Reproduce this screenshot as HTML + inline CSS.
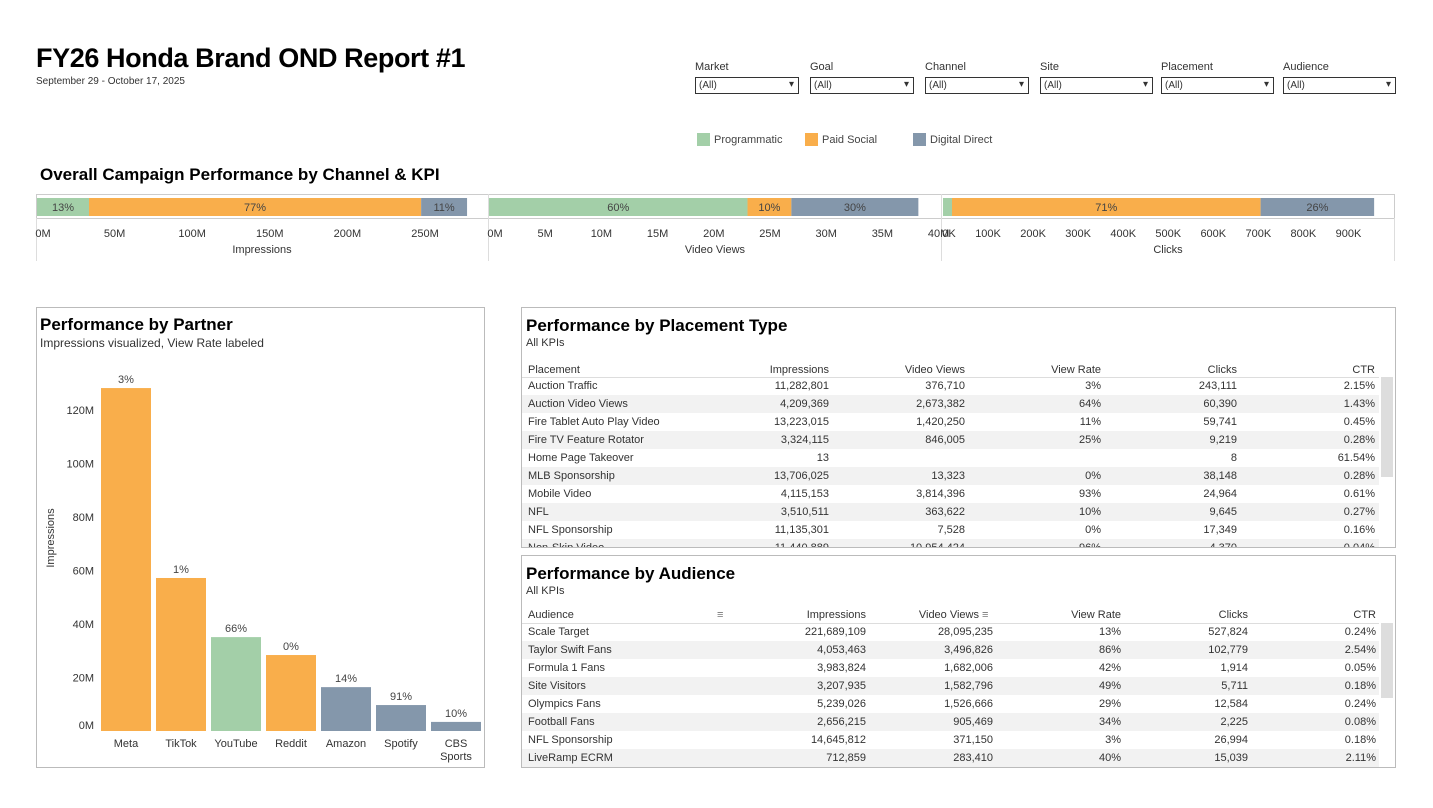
<!DOCTYPE html>
<html><head><meta charset="utf-8">
<style>
*{box-sizing:border-box}
body{margin:0;width:1433px;height:808px;background:#fff;font-family:"Liberation Sans",sans-serif;color:#333;position:relative;overflow:hidden}
.abs{position:absolute}
.title{left:36px;top:43px;font-size:27px;font-weight:bold;color:#000;letter-spacing:-0.4px}
.sub{font-size:11px;color:#333}
.flabel{font-size:11px;color:#333}
.dd{height:17px;border:1px solid #333;font-size:10px;padding:2px 3px;background:#fff}
.dd:after{content:"▾";position:absolute;right:4px;top:1px;font-size:10px}
.sw{width:13px;height:13px}
.lg{font-size:11px;color:#444}
.h2{font-size:17px;font-weight:bold;color:#000}
.panel{border:1px solid #bbb;background:#fff}
.row{position:absolute;left:0;height:18px;font-size:11px;color:#333}
.cell{position:absolute;top:3px;white-space:nowrap}
</style></head><body>
<div class="abs title">FY26 Honda Brand OND Report #1</div>
<div class="abs sub" style="left:36px;top:76px;font-size:10px">September 29 - October 17, 2025</div>
<div id="filters"></div>
<div class="abs sw" style="left:697px;top:133px;background:#a3cfa8"></div>
<div class="abs lg" style="left:714px;top:134px">Programmatic</div>
<div class="abs sw" style="left:805px;top:133px;background:#f9ae4b"></div>
<div class="abs lg" style="left:822px;top:134px">Paid Social</div>
<div class="abs sw" style="left:913px;top:133px;background:#8497ab"></div>
<div class="abs lg" style="left:930px;top:134px">Digital Direct</div>
<div class="abs h2" style="left:40px;top:165px">Overall Campaign Performance by Channel &amp; KPI</div>
<svg class="abs" style="left:0;top:0" width="1433" height="808" id="svg"></svg>

<div class="abs panel" style="left:36px;top:307px;width:449px;height:461px;background:transparent;pointer-events:none"></div>
<div class="abs h2" style="left:40px;top:315px">Performance by Partner</div>
<div class="abs sub" style="left:40px;top:336px;font-size:12px">Impressions visualized, View Rate labeled</div>

<div class="abs panel" style="left:521px;top:307px;width:875px;height:241px;overflow:hidden" id="ptable">
<div class="abs h2" style="left:4px;top:8px">Performance by Placement Type</div>
<div class="abs sub" style="left:4px;top:29px">All KPIs</div>
</div>
<div class="abs panel" style="left:521px;top:555px;width:875px;height:213px;overflow:hidden" id="atable">
<div class="abs h2" style="left:4px;top:8px">Performance by Audience</div>
<div class="abs sub" style="left:4px;top:29px">All KPIs</div>
</div>

<script>
// ---- data ----
const filterNames=["Market","Goal","Channel","Site","Placement","Audience"];
const channels=["Programmatic","Paid Social","Digital Direct"];
const impShare=[33.5,214,29.6];      // M
const impPct=["13%","77%","11%"];
const vvShare=[23,3.9,11.3];          // M
const vvPct=["60%","10%","30%"];
const clkShare=[20,685,252];          // K
const clkPct=["","71%","26%"];
const impTicks=[0,50,100,150,200,250];
const vvTicks=[0,5,10,15,20,25,30,35,40];
const clkTicks=[0,100,200,300,400,500,600,700,800,900];
const partners=["Meta","TikTok","YouTube","Reddit","Amazon","Spotify","CBS Sports"];
const partnerImp=[128.2,57.2,35.1,28.4,16.4,9.7,3.4];
const partnerVR=["3%","1%","66%","0%","14%","91%","10%"];
const partnerCh=[1,1,0,1,2,2,2];
const partnerTicks=[0,20,40,60,80,100,120];
const placementRows=[
["Auction Traffic","11,282,801","376,710","3%","243,111","2.15%"],
["Auction Video Views","4,209,369","2,673,382","64%","60,390","1.43%"],
["Fire Tablet Auto Play Video","13,223,015","1,420,250","11%","59,741","0.45%"],
["Fire TV Feature Rotator","3,324,115","846,005","25%","9,219","0.28%"],
["Home Page Takeover","13","","","8","61.54%"],
["MLB Sponsorship","13,706,025","13,323","0%","38,148","0.28%"],
["Mobile Video","4,115,153","3,814,396","93%","24,964","0.61%"],
["NFL","3,510,511","363,622","10%","9,645","0.27%"],
["NFL Sponsorship","11,135,301","7,528","0%","17,349","0.16%"],
["Non-Skip Video","11,440,889","10,954,424","96%","4,370","0.04%"]];
const audienceRows=[
["Scale Target","221,689,109","28,095,235","13%","527,824","0.24%"],
["Taylor Swift Fans","4,053,463","3,496,826","86%","102,779","2.54%"],
["Formula 1 Fans","3,983,824","1,682,006","42%","1,914","0.05%"],
["Site Visitors","3,207,935","1,582,796","49%","5,711","0.18%"],
["Olympics Fans","5,239,026","1,526,666","29%","12,584","0.24%"],
["Football Fans","2,656,215","905,469","34%","2,225","0.08%"],
["NFL Sponsorship","14,645,812","371,150","3%","26,994","0.18%"],
["LiveRamp ECRM","712,859","283,410","40%","15,039","2.11%"]];
const placementHead=["Placement","Impressions","Video Views","View Rate","Clicks","CTR"];
const audienceHead=["Audience","Impressions","Video Views","View Rate","Clicks","CTR"];

const colors=["#a3cfa8","#f9ae4b","#8497ab"];
const NS="http://www.w3.org/2000/svg";
const svg=document.getElementById('svg');
function mk(tag,attrs,parent){const e=document.createElementNS(NS,tag);for(const k in attrs)e.setAttribute(k,attrs[k]);(parent||svg).appendChild(e);return e;}
function txt(x,y,s,anchor,size,fill,parent){const t=mk('text',{x:x,y:y,'text-anchor':anchor||'middle','font-size':size||11,fill:fill||'#333','font-family':'Liberation Sans, sans-serif'},parent);t.textContent=s;return t;}

// filters
const fx=[695,810,925,1040,1161,1283],fw=[104,104,104,113,113,113];
const fc=document.getElementById('filters');
filterNames.forEach((n,i)=>{
 const l=document.createElement('div');l.className='abs flabel';l.style.left=fx[i]+'px';l.style.top='61px';l.textContent=n;
 
 fc.appendChild(l);
 const d=document.createElement('div');d.className='abs dd';d.style.left=fx[i]+'px';d.style.top='77px';d.style.width=fw[i]+'px';d.textContent='(All)';
 
 fc.appendChild(d);
});

// KPI strip
mk('rect',{x:36.5,y:194.5,width:1358,height:24,fill:'none',stroke:'#ccc'});
mk('line',{x1:36.5,y1:218,x2:36.5,y2:261,stroke:'#ddd'});
mk('line',{x1:488.5,y1:194,x2:488.5,y2:261,stroke:'#ddd'});
mk('line',{x1:941.5,y1:194,x2:941.5,y2:261,stroke:'#ddd'});
mk('line',{x1:1394.5,y1:218,x2:1394.5,y2:261,stroke:'#ddd'});
function kpi(x0,scale,shares,pcts,ticks,unit,title,cx,name){
 const g=mk('g',{});
 
 
 let acc=0;
 shares.forEach((v,i)=>{
  const x=x0+acc*scale,w=v*scale;
  const r=mk('rect',{x:x,y:198,width:w,height:18,fill:colors[i]},g);
  
  
  if(pcts[i])txt(x+w/2,211,pcts[i],'middle',11,'#444',g);
  acc+=v;
 });
 ticks.forEach(t=>{const tx=x0+t*scale;txt(tx===x0?tx+6:tx,237,t+unit,'middle',11,'#333',g);});
 txt(cx,253,title,'middle',11,'#333',g);
}
kpi(37,1.552,impShare,impPct,impTicks,'M','Impressions',262,'impressions');
kpi(489,11.24,vvShare,vvPct,vvTicks,'M','Video Views',715,'video-views');
kpi(943,0.4505,clkShare,clkPct,clkTicks,'K','Clicks',1168,'clicks');

// partner chart
const base=731,pscale=2.675;
const py=v=>base-v*pscale;
const ag=mk('g',{});


partnerTicks.forEach(t=>{txt(94,t===0?py(t)-2:py(t)+4,t+'M','end',11,'#333',ag);});
const yt=txt(0,0,'Impressions','middle',11,'#333');
yt.setAttribute('transform','translate(54,538) rotate(-90)');


partners.forEach((p,i)=>{
 const x=101+i*55;
 const r=mk('rect',{x:x,y:py(partnerImp[i]),width:50,height:partnerImp[i]*pscale,fill:colors[partnerCh[i]]});
 
 
 txt(x+25,py(partnerImp[i])-5,partnerVR[i],'middle',11,'#444');
 const parts=p.split(' ');
 parts.forEach((s,j)=>txt(x+25,747+j*13,s,'middle',11,'#333'));
});

// tables
const RW=857;
function table(id,head,rows,rights,headY,rowTop,sortIcons){
 const host=document.getElementById(id);
 const hd=document.createElement('div');hd.className='row';hd.style.top=headY+'px';hd.style.width=RW+'px';
 
 
 head.forEach((h,i)=>{const c=document.createElement('div');c.className='cell';c.textContent=h;
  if(i===0)c.style.left='6px';else c.style.right=(RW-rights[i])+'px';
  if(sortIcons&&i===2)c.style.right=(RW-rights[i]+14)+'px';
  hd.appendChild(c);});
 host.appendChild(hd);
 if(sortIcons){[195,460].forEach(s=>{const c=document.createElement('div');c.className='cell';c.style.left=s+'px';c.style.fontSize='11px';c.style.color='#777';c.textContent='≡';hd.appendChild(c);});}
 const ln=document.createElement('div');ln.className='abs';ln.style.cssText='left:0;width:857px;height:1px;background:#ddd;top:'+(rowTop)+'px';host.appendChild(ln);
 rows.forEach((r,k)=>{
  const rw=document.createElement('div');rw.className='row';rw.style.top=(rowTop+k*18)+'px';rw.style.width=RW+'px';
  if(k%2===1)rw.style.background='#f2f2f2';
  
  
  r.forEach((v,i)=>{const c=document.createElement('div');c.className='cell';c.textContent=v;
   if(i===0)c.style.left='6px';else c.style.right=(RW-rights[i])+'px';rw.appendChild(c);});
  host.appendChild(rw);
 });
 const sb=document.createElement('div');sb.className='abs';sb.style.cssText='left:859px;width:12px;background:#ddd;top:'+rowTop+'px;height:'+(id==='ptable'?100:75)+'px';
 
 
 host.appendChild(sb);
}
table('ptable',placementHead,placementRows,[0,307,443,579,715,853],53,69,false);
table('atable',audienceHead,audienceRows,[0,344,471,599,726,854],50,67,true);
</script>
</body></html>
